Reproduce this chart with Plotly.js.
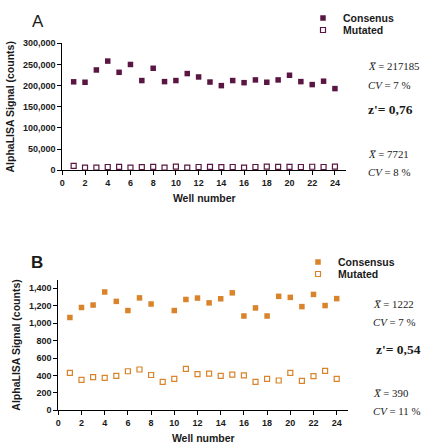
<!DOCTYPE html>
<html>
<head>
<meta charset="utf-8">
<script src="https://cdn.plot.ly/plotly-3.0.1.min.js"></script>
<style>html,body{margin:0;padding:0;background:#fff;}#chart{width:423px;height:445px;}</style>
</head>
<body>
<div id="chart"></div>
<script>
// ---- data ----
const wells = [1,2,3,4,5,6,7,8,9,10,11,12,13,14,15,16,17,18,19,20,21,22,23,24];
const consensusA = [209000,208000,237000,258000,231500,250000,212000,241000,209500,212000,228500,220500,208500,200000,212000,207000,213500,208000,213500,224500,209500,202500,210500,193000];
const mutatedA = [10400,6400,6200,7800,8000,6300,7700,7900,6200,8500,6300,7800,7900,7700,7800,6400,7800,8600,7900,8000,7800,8400,7800,8500];
const consensusB = [1065,1180,1208,1358,1250,1145,1290,1220,null,1145,1272,1288,1233,1280,1348,1082,1175,1082,1308,1296,1190,1330,1202,1282];
const mutatedB = [430,350,380,372,395,448,468,405,327,360,475,415,422,395,410,400,327,360,342,430,337,392,452,360];
const seriesNames = ["Consenus","Mutated","Consensus","Mutated"];
const statsA = {mean1:"217185", cv1:"7 %", z:"0,76", mean2:"7721", cv2:"8 %"};
const statsB = {mean1:"1222", cv1:"7 %", z:"0,54", mean2:"390", cv2:"11 %"};

const W = 423, H = 445;
const px = x => x / W;
const py = y => 1 - y / H;

const purple = "#5a1642";
const orange = "#d9832a";

const traces = [
  {x: wells, y: consensusA, name: seriesNames[0], type: "scatter", mode: "markers", xaxis: "x", yaxis: "y", legend: "legend",
   marker: {symbol: "square", size: 5.5, color: purple}, cliponaxis: false},
  {x: wells, y: mutatedA, name: seriesNames[1], type: "scatter", mode: "markers", xaxis: "x", yaxis: "y", legend: "legend2",
   marker: {symbol: "square-open", size: 5, color: purple, line: {width: 1.2}}, cliponaxis: false},
  {x: wells, y: consensusB, name: seriesNames[2], type: "scatter", mode: "markers", xaxis: "x2", yaxis: "y2", legend: "legend3",
   marker: {symbol: "square", size: 5.5, color: orange}, cliponaxis: false},
  {x: wells, y: mutatedB, name: seriesNames[3], type: "scatter", mode: "markers", xaxis: "x2", yaxis: "y2", legend: "legend4",
   marker: {symbol: "square-open", size: 5, color: orange, line: {width: 1.2}}, cliponaxis: false}
];

const tickFont = {family: "Liberation Sans, Arial, sans-serif", size: 9, color: "#1a1a1a", weight: "bold"};
const titleFont = {family: "Liberation Sans, Arial, sans-serif", size: 10.5, color: "#1a1a1a", weight: "bold"};

function xax(domain, anchor) {
  return {domain: domain, anchor: anchor, range: [0, 25], autorange: false, tickmode: "linear", tick0: 0, dtick: 2,
    showgrid: false, zeroline: false, showline: true, linecolor: "#000", linewidth: 1,
    ticks: "outside", ticklen: 4, tickcolor: "#000", tickfont: tickFont,
    title: {text: "Well number", font: titleFont, standoff: 7}};
}
function yax(domain, anchor, range, dtick) {
  return {domain: domain, anchor: anchor, range: range, autorange: false, tickmode: "linear", tick0: 0, dtick: dtick,
    showgrid: false, zeroline: false, showline: true, linecolor: "#000", linewidth: 1,
    ticks: "outside", ticklen: 4, tickcolor: "#000", tickfont: tickFont, separatethousands: true, tickformat: ",d",
    title: {text: "AlphaLISA Signal (counts)", font: titleFont, standoff: 6}};
}

const legFont = {family: "Liberation Sans, Arial, sans-serif", size: 10.5, color: "#1a1a1a", weight: "bold"};
function leg(xp, yp) {
  return {x: px(xp), y: py(yp), xanchor: "left", yanchor: "middle", bgcolor: "rgba(0,0,0,0)", borderwidth: 0, font: legFont, itemwidth: 30};
}

const serif = "Liberation Serif, Times New Roman, serif";
function statAnn(xp, yp, text, size, bold) {
  return {xref: "paper", yref: "paper", x: px(xp), y: py(yp), xanchor: "left", yanchor: "middle", showarrow: false,
    text: text, font: {family: serif, size: size, color: "#1a1a1a", weight: bold ? "bold" : "normal"}};
}
const xbar = "<i>X\u0305</i>";

const annotations = [
  {xref: "paper", yref: "paper", x: px(30), y: py(22), xanchor: "left", yanchor: "middle", showarrow: false, text: "A",
   font: {family: "Liberation Sans, Arial, sans-serif", size: 17, color: "#1a1a1a"}},
  {xref: "paper", yref: "paper", x: px(29), y: py(262), xanchor: "left", yanchor: "middle", showarrow: false, text: "B",
   font: {family: "Liberation Sans, Arial, sans-serif", size: 17, color: "#1a1a1a", weight: "bold"}},
  statAnn(366, 66, xbar + " = " + statsA.mean1, 10.8),
  statAnn(366, 85, "<i>CV</i> = " + statsA.cv1, 10.8),
  statAnn(366, 110, "z'= " + statsA.z, 13.5, true),
  statAnn(371, 304, xbar + " = " + statsB.mean1, 10.8),
  statAnn(371, 322, "<i>CV</i> = " + statsB.cv1, 10.8),
  statAnn(374, 349, "z'= " + statsB.z, 13.5, true),
  statAnn(366, 154, xbar + " = " + statsA.mean2, 10.8),
  statAnn(366, 172, "<i>CV</i> = " + statsA.cv2, 10.8),
  statAnn(371, 393, xbar + " = " + statsB.mean2, 10.8),
  statAnn(371, 411, "<i>CV</i> = " + statsB.cv2, 10.8)
];

const layout = {
  width: W, height: H,
  margin: {l: 0, r: 0, t: 0, b: 0},
  paper_bgcolor: "#fff", plot_bgcolor: "#fff",
  showlegend: true,
  xaxis: xax([px(62.3), px(346.3)], "y"),
  yaxis: yax([py(170.3), py(43.3)], "x", [0, 300000], 50000),
  xaxis2: xax([px(58.3), px(348.3)], "y2"),
  yaxis2: yax([py(410.3), py(279.6)], "x2", [0, 1500], 200),
  legend: leg(303, 18),
  legend2: leg(303, 30),
  legend3: leg(298, 262),
  legend4: leg(298, 274),
  annotations: annotations
};

Plotly.newPlot("chart", traces, layout, {displayModeBar: false, staticPlot: true});
</script>
</body>
</html>
